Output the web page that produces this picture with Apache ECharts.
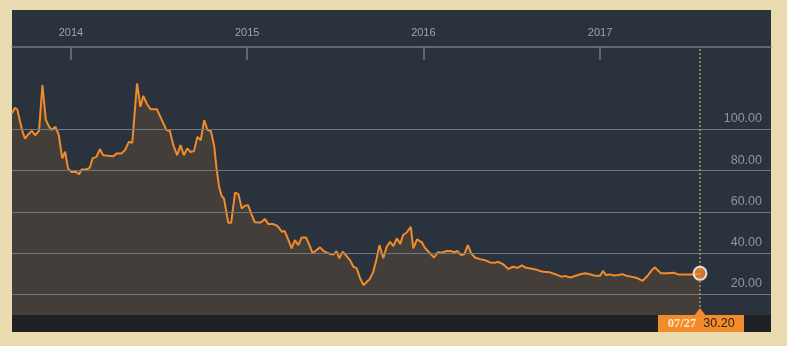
<!DOCTYPE html>
<html>
<head>
<meta charset="utf-8">
<script src="https://cdn.jsdelivr.net/npm/echarts@6/dist/echarts.min.js"></script>
<style>
  html, body { margin: 0; padding: 0; }
  body {
    width: 787px; height: 346px; position: relative; overflow: hidden;
    background-color: #f8f0d6;
    background-image: radial-gradient(circle, #d9c185 0.6px, transparent 0.8px);
    background-size: 2px 2px;
  }
  #panel { position: absolute; left: 12px; top: 10px; width: 759px; height: 322px; background: #29323d; }
  #band { position: absolute; left: 12px; top: 315px; width: 759px; height: 17px; background: #1f2124; }
  #chart { position: absolute; left: 0; top: 0; width: 787px; height: 346px; }
</style>
</head>
<body>
<div id="panel"></div>
<div id="band"></div>
<div id="chart"></div>
<script>
// ---- data ----
const dates = [
  '2013-09-01','2013-09-07','2013-09-12','2013-09-17','2013-09-23','2013-09-28','2013-10-05','2013-10-12','2013-10-19','2013-10-27',
  '2013-11-03','2013-11-10','2013-11-15','2013-11-22','2013-11-30','2013-12-07','2013-12-14','2013-12-20','2013-12-26','2014-01-02',
  '2014-01-11','2014-01-18','2014-01-23','2014-02-01','2014-02-09','2014-02-15','2014-02-23','2014-03-02','2014-03-09','2014-03-19',
  '2014-03-30','2014-04-06','2014-04-16','2014-04-23','2014-05-01','2014-05-08','2014-05-18','2014-05-25','2014-05-31','2014-06-07',
  '2014-06-15','2014-06-28','2014-07-08','2014-07-18','2014-07-25','2014-08-01','2014-08-09','2014-08-16','2014-08-23','2014-08-30',
  '2014-09-06','2014-09-13','2014-09-20','2014-09-27','2014-10-04','2014-10-11','2014-10-18','2014-10-25','2014-10-30','2014-11-04',
  '2014-11-09','2014-11-14','2014-11-23','2014-11-29','2014-12-07','2014-12-14','2014-12-21','2014-12-27','2015-01-03','2015-01-10',
  '2015-01-17','2015-01-29','2015-02-07','2015-02-14','2015-02-24','2015-03-04','2015-03-14','2015-03-20','2015-03-27','2015-04-03',
  '2015-04-10','2015-04-17','2015-04-24','2015-05-03','2015-05-10','2015-05-17','2015-05-25','2015-06-01','2015-06-08','2015-06-15',
  '2015-06-23','2015-06-30','2015-07-05','2015-07-11','2015-07-18','2015-07-26','2015-08-02','2015-08-09','2015-08-16','2015-08-23',
  '2015-08-30','2015-09-06','2015-09-12','2015-09-19','2015-09-26','2015-10-02','2015-10-10','2015-10-17','2015-10-24','2015-10-31',
  '2015-11-07','2015-11-14','2015-11-20','2015-11-27','2015-12-06','2015-12-11','2015-12-19','2015-12-29','2016-01-04','2016-01-15',
  '2016-01-23','2016-01-31','2016-02-08','2016-02-17','2016-02-27','2016-03-04','2016-03-11','2016-03-19','2016-03-26','2016-04-02',
  '2016-04-09','2016-04-17','2016-04-27','2016-05-08','2016-05-18','2016-05-28','2016-06-04','2016-06-15','2016-06-25','2016-07-04',
  '2016-07-14','2016-07-23','2016-08-01','2016-08-10','2016-08-21','2016-08-30','2016-09-06','2016-09-19','2016-09-30','2016-10-14',
  '2016-10-20','2016-10-31','2016-11-10','2016-11-21','2016-12-01','2016-12-11','2016-12-22','2017-01-01','2017-01-07','2017-01-13',
  '2017-01-22','2017-01-30','2017-02-08','2017-02-16','2017-02-25','2017-03-08','2017-03-19','2017-03-30','2017-04-09','2017-04-18',
  '2017-04-25','2017-04-30','2017-05-07','2017-05-19','2017-06-02','2017-06-12','2017-06-23','2017-07-06','2017-07-19','2017-07-27'
];
const values = [
  107.8,110.5,109.7,104.5,98.8,95.6,97.7,99.3,97.2,99.3,
  121.5,104.8,102.1,99.7,101.3,97.2,86.0,89.2,81.1,79.4,
  79.4,78.3,80.6,80.6,81.4,86.0,86.7,90.4,87.5,87.2,
  87.0,88.4,88.4,90.0,94.0,93.5,122.3,111.0,116.3,112.6,
  109.8,109.8,104.8,99.7,99.3,92.4,87.5,92.4,87.5,90.8,
  89.1,89.5,96.4,94.8,104.5,99.7,99.2,91.6,80.3,72.2,
  67.8,66.5,54.7,54.8,69.4,68.6,61.6,63.0,63.3,58.8,
  55.0,54.9,56.5,54.1,54.1,53.3,50.4,50.7,46.7,42.3,
  46.3,43.9,47.6,47.6,43.9,39.9,41.5,42.8,41.1,40.2,
  39.5,39.5,41.0,37.5,40.7,38.6,36.6,33.4,32.6,27.8,
  24.5,26.1,27.5,30.8,37.0,43.9,37.5,43.1,45.5,43.4,
  47.2,44.4,48.8,49.9,52.8,42.3,46.7,45.2,42.6,39.9,
  37.9,40.4,40.2,41.0,41.1,40.4,41.1,39.1,39.5,43.9,
  39.9,37.9,37.1,36.6,35.5,35.3,35.8,34.5,32.3,33.4,
  32.9,34.1,32.9,32.6,32.1,31.3,31.0,30.7,29.8,28.5,
  29.0,28.2,28.9,29.8,30.3,29.8,29.0,29.0,31.4,29.4,
  29.7,29.2,29.4,29.8,29.0,28.5,27.9,26.6,28.9,31.8,
  33.1,31.8,30.2,30.2,30.5,29.7,29.7,29.7,29.7,30.2
];
const yearTicks = ['2014-01-01','2015-01-01','2016-01-01','2017-01-01'];
const gridValues = [20, 40, 60, 80, 100];
const axisMinDate = '2013-09-01';
const axisMaxDate = '2017-12-21';
const yMin = 10, yMax = 140;
const lastDateLabel = '07/27';

// ---- chart ----
const ORANGE = '#f28b2a';
const chart = echarts.init(document.getElementById('chart'), null, { renderer: 'canvas' });
const ts = s => new Date(s + 'T00:00:00Z').getTime();
const seriesData = dates.map((d, i) => [ts(d), values[i]]);
const last = seriesData[seriesData.length - 1];

const gridLines = gridValues.map(v => ({
  yAxis: v,
  lineStyle: { color: '#6f7781', width: 1, type: 'solid' },
  label: {
    show: true, position: 'insideEndTop', distance: [9, 4],
    formatter: () => v.toFixed(2),
    color: '#8e959d', fontSize: 12.5, fontFamily: 'Liberation Sans, Arial, sans-serif'
  }
}));

chart.setOption({
  animation: false,
  backgroundColor: 'transparent',
  grid: { left: 12, right: 16, top: 47, bottom: 31, containLabel: false },
  xAxis: {
    type: 'value', position: 'top',
    min: ts(axisMinDate), max: ts(axisMaxDate),
    axisLine: { show: true, lineStyle: { color: '#737a84', width: 1.5 } },
    axisTick: { show: true, inside: true, length: 13, customValues: yearTicks.map(ts), lineStyle: { color: '#737a84', width: 1.5 } },
    axisLabel: {
      show: true, customValues: yearTicks.map(ts),
      formatter: v => String(new Date(v).getUTCFullYear()),
      color: '#9ea4ab', fontSize: 11, margin: 9, fontFamily: 'Liberation Sans, Arial, sans-serif'
    },
    splitLine: { show: false }
  },
  yAxis: {
    type: 'value', min: yMin, max: yMax,
    axisLine: { show: false }, axisTick: { show: false }, axisLabel: { show: false }, splitLine: { show: false }
  },
  series: [
    {
      type: 'line', data: seriesData, showSymbol: false, symbol: 'none',
      lineStyle: { color: ORANGE, width: 2 },
      areaStyle: { color: 'rgba(242,139,42,0.19)' },
      z: 3,
      markLine: {
        silent: true, symbol: ['none', 'none'], animation: false,
        data: gridLines.concat([{
          xAxis: last[0],
          lineStyle: { color: '#a99255', width: 1.6, type: [2, 2] },
          label: { show: false }
        }])
      }
    },
    {
      type: 'scatter', data: [last], symbol: 'circle', symbolSize: 13,
      itemStyle: { color: ORANGE, borderColor: '#ffffff', borderWidth: 2 }, z: 5
    }
  ]
});

const p = chart.convertToPixel({ gridIndex: 0 }, last);
const bottomY = chart.convertToPixel({ yAxisIndex: 0 }, yMin);
const px = Math.round(p[0]);
chart.setOption({
  graphic: [
    { type: 'polygon', shape: { points: [[px - 6, bottomY + 1], [px, bottomY - 7], [px + 6, bottomY + 1]] }, style: { fill: ORANGE }, z: 10 },
    { type: 'rect', shape: { x: px - 42, y: bottomY, width: 86, height: 17 }, style: { fill: ORANGE }, z: 10 },
    { type: 'text', x: px - 18, y: bottomY + 9, style: { text: lastDateLabel, fill: '#fde7c9', font: 'bold 12.5px "Liberation Serif", serif', align: 'center', verticalAlign: 'middle' }, z: 11 },
    { type: 'text', x: px + 19, y: bottomY + 9, style: { text: last[1].toFixed(2), fill: '#2a2623', font: '12.5px "Liberation Sans", Arial, sans-serif', align: 'center', verticalAlign: 'middle' }, z: 11 }
  ]
});
</script>
</body>
</html>
